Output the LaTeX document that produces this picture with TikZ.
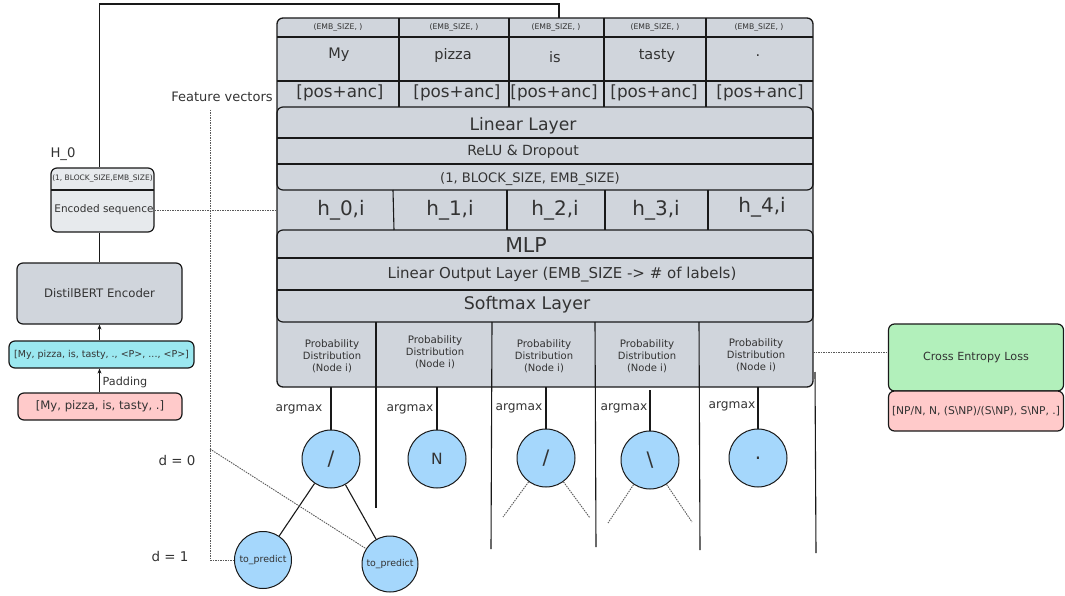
\documentclass[tikz,border=0pt]{standalone}
\usepackage{fontspec}
\setmainfont{DejaVu Sans}
\usetikzlibrary{arrows.meta}
\definecolor{boxgrey}{RGB}{208,213,220}
\definecolor{lightgrey}{RGB}{231,234,237}
\definecolor{cyanbox}{RGB}{155,232,240}
\definecolor{pinkbox}{RGB}{255,202,202}
\definecolor{greenbox}{RGB}{178,240,187}
\definecolor{circblue}{RGB}{165,215,252}
\definecolor{txt}{RGB}{51,51,51}
\definecolor{ln}{RGB}{25,25,25}
\newcommand\setfs[1]{\fontsize{#1}{#1}\selectfont}
\begin{document}
\begin{tikzpicture}[x=1pt,y=-1pt,
  lbl/.style={text=txt, inner sep=0pt, align=center},
  sep/.style={draw=ln, line width=1.1pt},
  circ/.style={circle, draw=ln, line width=1pt, fill=circblue, minimum size=58pt, inner sep=0pt, text=txt},
  conn/.style={draw=ln, line width=1.1pt},
  dots/.style={draw=black!65, dash pattern=on 1.5pt off 1pt, line width=0.9pt},
  rbox/.style={draw=ln, line width=1.2pt, rounded corners=6pt, inner sep=0pt, text=txt, align=center},
  arr/.style={conn, -{Stealth[length=5pt,width=4pt]}},
]
\useasboundingbox (0,0) rectangle (1065,596);

% ---------- big table ----------
\draw[draw=ln, line width=1.3pt, fill=boxgrey, rounded corners=6pt] (277,18) rectangle (813,387);
\draw[draw=ln, line width=1.2pt, rounded corners=6pt] (277,107) rectangle (813,190);
\draw[draw=ln, line width=1.2pt, rounded corners=6pt] (277,230) rectangle (813,322);
\foreach \yy in {37,81} \draw[sep] (277,\yy) -- (813,\yy);
\foreach \yy in {138,164} \draw[sep] (277,\yy) -- (813,\yy);
\foreach \yy in {258,290} \draw[sep] (277,\yy) -- (813,\yy);
\foreach \xx in {399,509,604,706} \draw[sep] (\xx,18) -- (\xx,107);
\draw[sep] (393,190) -- (394,230);
\draw[sep] (507,190) -- (507,230);
\draw[sep] (605,190) -- (605,230);
\draw[sep] (708,190) -- (708,230);
\draw[sep] (376,322) -- (376,508);
\draw[sep] (492,322) -- (491,549);
\draw[sep] (595,322) -- (596,547);
\draw[sep] (699,322) -- (700,550);
\draw[sep] (815,372) -- (816,553);

% top row
\foreach \n/\xx in {1/338,2/454,3/556,4/655,5/759}
  \node[lbl] (emb\n) at (\xx,27) {\setfs{7.7}(EMB\_SIZE, )};
\node[lbl] (w1) at (339,55) {\setfs{14.5}My};
\node[lbl] (w2) at (453,56) {\setfs{14.5}pizza};
\node[lbl] (w3) at (555,57) {\setfs{14.5}is};
\node[lbl] (w4) at (657,56) {\setfs{14.5}tasty};
\node[lbl] (w5) at (758,56) {\setfs{14.5}.};
\foreach \n/\xx in {1/340,2/457,3/554,4/654,5/760}
  \node[lbl] (pos\n) at (\xx,93) {\setfs{16.8}[pos+anc]};

\node[lbl] (lin) at (523,126) {\setfs{17.2}Linear Layer};
\node[lbl] (relu) at (523,152) {\setfs{14}ReLU \& Dropout};
\node[lbl] (dim) at (530,179) {\setfs{13.1}(1, BLOCK\_SIZE, EMB\_SIZE)};

\node[lbl] (h0i) at (341,210) {\setfs{20}h\_0,i};
\node[lbl] (h1i) at (450,210) {\setfs{20}h\_1,i};
\node[lbl] (h2i) at (555,210) {\setfs{20}h\_2,i};
\node[lbl] (h3i) at (656,210) {\setfs{20}h\_3,i};
\node[lbl] (h4i) at (762,207) {\setfs{20}h\_4,i};

\node[lbl] (mlp) at (526,245) {\setfs{20.5}MLP};
\node[lbl] (linout) at (562,275) {\setfs{15}Linear Output Layer (EMB\_SIZE -> \# of labels)};
\node[lbl] (soft) at (527,305) {\setfs{17.4}Softmax Layer};

\node[lbl] (p1) at (332,356) {\fontsize{10.3}{12}\selectfont Probability\\Distribution\\(Node i)};
\node[lbl] (p2) at (435,352) {\fontsize{10.3}{12}\selectfont Probability\\Distribution\\(Node i)};
\node[lbl] (p3) at (544,356) {\fontsize{10.3}{12}\selectfont Probability\\Distribution\\(Node i)};
\node[lbl] (p4) at (647,356) {\fontsize{10.3}{12}\selectfont Probability\\Distribution\\(Node i)};
\node[lbl] (p5) at (756,355) {\fontsize{10.3}{12}\selectfont Probability\\Distribution\\(Node i)};
\coordinate (bb) at (0,387);

% ---------- left column ----------
\node[rbox, fill=lightgrey, minimum width=103pt, minimum height=64pt] (h0) at (102.5,200) {};
\draw[sep] (51,190) -- (154,190);
\node[lbl] (h0dim) at (102.5,179) {\setfs{7.5}(1, BLOCK\_SIZE,EMB\_SIZE)};
\node[lbl] (h0enc) at (104,210) {\setfs{10.5}Encoded sequence};
\node[lbl] (h0lab) at (63,154) {\setfs{13.2}H\_0};

\node[rbox, fill=boxgrey, minimum width=165pt, minimum height=61pt] (enc) at (99.5,293.5) {\setfs{11.7}DistilBERT Encoder};
\node[rbox, fill=cyanbox, minimum width=185pt, minimum height=27pt] (cy) at (101.5,354.5) {\setfs{9.5}[My, pizza, is, tasty, ., <P>, ..., <P>]};
\node[rbox, fill=pinkbox, minimum width=164pt, minimum height=27pt] (pk) at (100,406.5) {\setfs{11.7}[My, pizza, is, tasty, .]};
\node[lbl] (pad) at (125,382) {\setfs{11.2}Padding};

\coordinate (ttop) at (559,18);
\draw[conn] (enc.north) -- (enc.north |- h0.south);
\draw[conn] (enc.north |- h0.north) |- (ttop |- 0,4) -- (ttop);
\draw[arr] (cy.north -| enc.north) -- (enc.south);
\draw[arr] (pk.north -| enc.north) -- (cy.south -| enc.north);

% ---------- feature vectors ----------
\node[lbl] (fv) at (222,97) {\setfs{13}Feature vectors};
\coordinate (fvt) at (210,110);
\coordinate (d0c) at (210,449);
\coordinate (hrowL) at (277,210);
\draw[dots] (h0enc -| h0.east) -- (hrowL);

% ---------- circles ----------
\node[circ] (c1) at (331,459) {\setfs{20}/};
\node[circ] (c2) at (437,459) {\setfs{15.5}N};
\node[circ] (c3) at (546,458) {\setfs{20}/};
\node[circ] (c4) at (650,460) {\setfs{20}\textbackslash};
\node[circ] (c5) at (758,458) {\setfs{20}.};
\foreach \c in {c1,c2,c3,c5} \draw[conn] (\c.north) -- (\c.north |- bb);
\draw[conn] (c4.north) -- (c4.north |- 0,390);

\node[lbl] (am1) at (299,409) {\setfs{12.2}argmax};
\node[lbl] (am2) at (410,409) {\setfs{12.2}argmax};
\node[lbl] (am3) at (519,408) {\setfs{12.2}argmax};
\node[lbl] (am4) at (624,408) {\setfs{12.2}argmax};
\node[lbl] (am5) at (732,406) {\setfs{12.2}argmax};

\node[circ, minimum size=57pt] (tpL) at (263,560) {\setfs{9.4}to\_predict};
\node[circ, minimum size=56pt] (tpR) at (390,564) {\setfs{9.4}to\_predict};
\draw[conn] (c1) -- (tpL);
\draw[conn] (c1) -- (tpR);

\draw[dots] (fvt) |- (tpL.west);
\draw[dots] (d0c) -- (tpR);

\coordinate (c3a) at (503,517);
\coordinate (c3b) at (590,518);
\coordinate (c4a) at (608,523);
\coordinate (c4b) at (692,522);
\draw[dots] (c3) -- (c3a);
\draw[dots] (c3) -- (c3b);
\draw[dots] (c4) -- (c4a);
\draw[dots] (c4) -- (c4b);

\node[lbl] (d0) at (177,461) {\setfs{13.4}d = 0};
\node[lbl] (d1) at (170,556) {\setfs{13.4}d = 1};

% ---------- loss ----------
\node[rbox, fill=greenbox, minimum width=175pt, minimum height=67pt] (cel) at (976,357.5) {\setfs{11.2}Cross Entropy Loss};
\node[rbox, fill=pinkbox, minimum width=175pt, minimum height=40pt] (gold) at (976,411) {\setfs{10.7}[NP/N, N, (S\textbackslash NP)/(S\textbackslash NP), S\textbackslash NP, .]};
\coordinate (pr) at (813,352);
\draw[dots] (pr) -- (pr -| cel.west);
\end{tikzpicture}
\end{document}
